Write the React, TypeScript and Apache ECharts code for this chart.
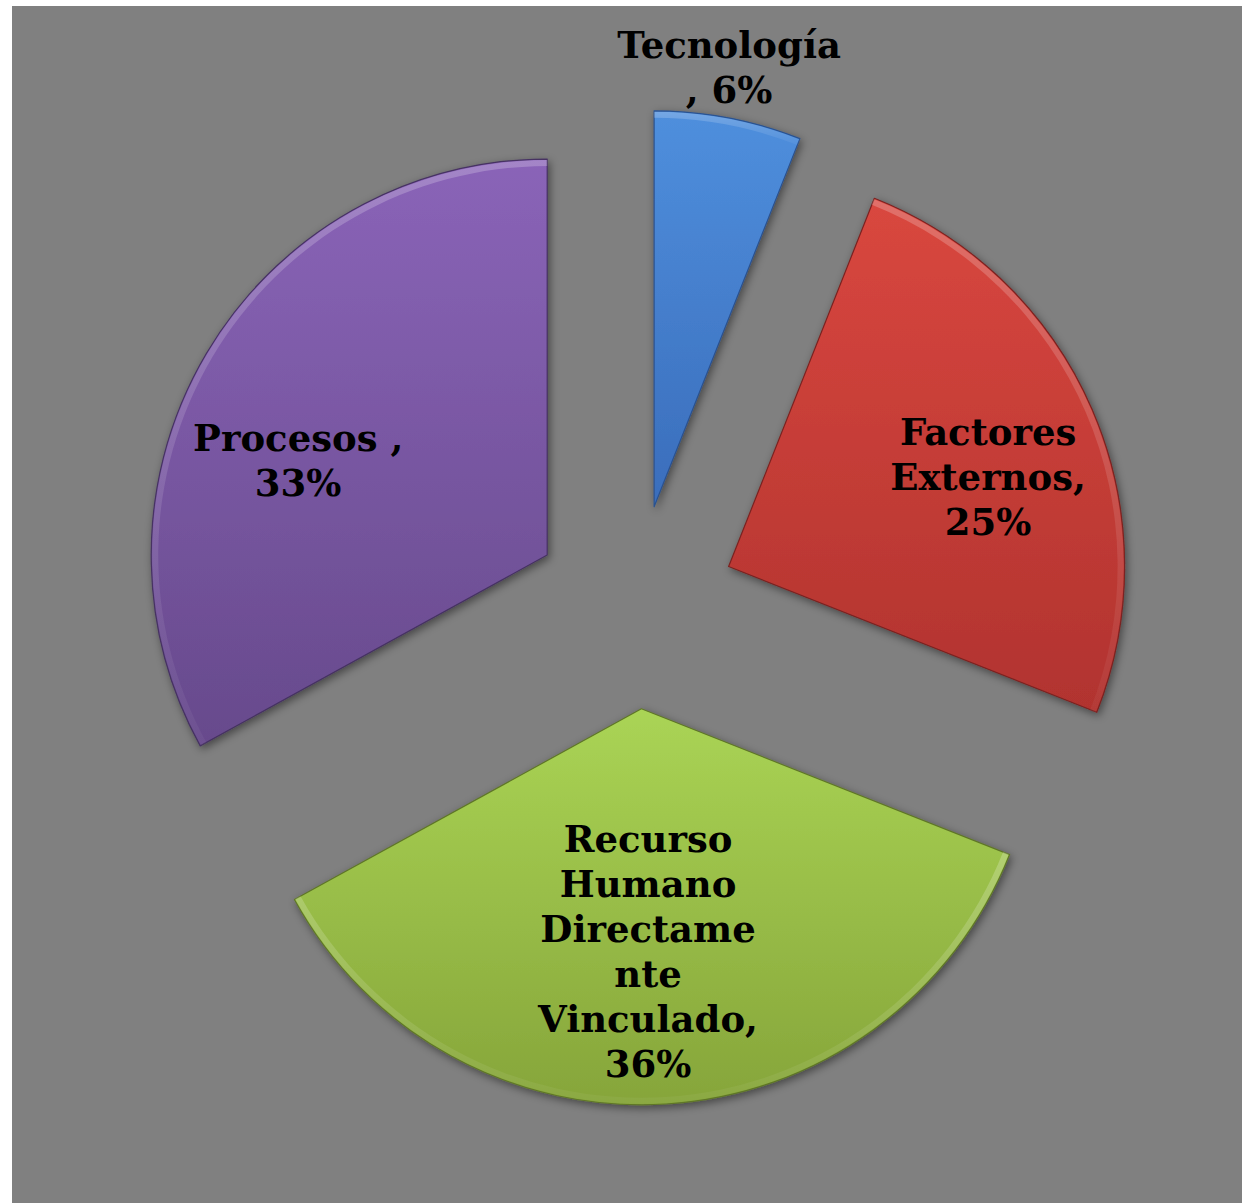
import React, { useEffect, useRef } from "react";
import * as echarts from "echarts";

// ---- data ----
const categories = [
  "Tecnología",
  "Factores Externos",
  "Recurso Humano Directamente Vinculado",
  "Procesos",
];
const values = [6, 25, 36, 33];
// how each label wraps (name part), and what precedes the percentage
const labelNameLines = [
  ["Tecnología"],
  ["Factores", "Externos,"],
  ["Recurso", "Humano", "Directame", "nte", "Vinculado,"],
  ["Procesos ,"],
];
const percentPrefix = [", ", "", "", ""];
// the thin slice carries its label just beyond the rim instead of inside
const labelOnRim = [true, false, false, false];

// ---- styles ----
const topColors = ["#4f8fdd", "#d9473f", "#aad455", "#8a64b8"];
const bottomColors = ["#3a6dbb", "#b1332f", "#86a53a", "#674a8c"];
const edgeColors = ["#2a5290", "#7a2220", "#5f7628", "#463262"];
// shift of each label from the library's default inside position
const labelShift = [
  [1, -51],
  [75, -10],
  [-6, 42],
  [-76, 8],
];

function hPadding(s: number[]) {
  return [0, Math.max(0, -2 * s[0]), 0, Math.max(0, 2 * s[0])];
}

export default function App() {
  const ref = useRef<HTMLDivElement>(null);
  useEffect(() => {
    if (!ref.current) return;
    const chart = echarts.init(ref.current, undefined, { renderer: "svg" });
    const center = [623, 601];
    const radius = 396;
    const offset = 102;
    const rich: Record<string, any> = {};
    labelShift.forEach((s, i) => {
      rich["t" + i] = { height: Math.max(1, 2 * s[1]), lineHeight: Math.max(1, 2 * s[1]), fontSize: 1 };
      rich["b" + i] = { height: Math.max(1, -2 * s[1]), lineHeight: Math.max(1, -2 * s[1]), fontSize: 1 };
    });
    const labelStyle = {
      position: "inside",
      color: "#000",
      fontFamily: "DejaVu Serif",
      fontWeight: "bold",
      fontSize: 37,
      lineHeight: 45,
      align: "center",
      rich,
      formatter: (p: any) => {
        const i = p.dataIndex;
        const s = labelShift[i];
        const body =
          labelNameLines[i].join("\n") +
          "\n" +
          percentPrefix[i] +
          Math.round(p.percent) +
          "%";
        const top = s[1] > 0 ? `{t${i}| }\n` : "";
        const bot = s[1] < 0 ? `\n{b${i}| }` : "";
        return top + body + bot;
      },
    };
    const mainData = categories.map((name, i) => {
      const item = {
        color: new echarts.graphic.LinearGradient(0, 0, 0, 1, [
          { offset: 0, color: topColors[i] },
          { offset: 1, color: bottomColors[i] },
        ]),
        borderColor: edgeColors[i],
        borderWidth: 1.2,
        shadowBlur: 8,
        shadowColor: "rgba(0,0,0,0.45)",
        shadowOffsetX: 2,
        shadowOffsetY: 3,
      };
      const lab = { show: !labelOnRim[i], padding: hPadding(labelShift[i]) };
      return {
        name,
        value: values[i],
        selected: true,
        itemStyle: item,
        label: lab,
        select: { itemStyle: item, label: lab },
      };
    });
    const rimData = categories.map((name, i) => {
      const item = {
        color: new echarts.graphic.LinearGradient(0, 0, 0, 1, [
          { offset: 0, color: "rgba(255,255,255,0.22)" },
          { offset: 1, color: "rgba(255,255,255,0.04)" },
        ]),
        borderWidth: 0,
      };
      const lab = { show: labelOnRim[i], padding: hPadding(labelShift[i]) };
      return {
        name,
        value: values[i],
        selected: true,
        itemStyle: item,
        label: lab,
        select: { itemStyle: item, label: lab },
      };
    });
    chart.setOption({
      animation: false,
      backgroundColor: "#808080",
      series: [
        {
          type: "pie",
          center,
          radius: [0, radius],
          startAngle: 90,
          clockwise: true,
          selectedMode: "multiple",
          selectedOffset: offset,
          avoidLabelOverlap: false,
          silent: true,
          emphasis: { disabled: true },
          label: labelStyle,
          labelLine: { show: false },
          data: mainData,
        },
        {
          type: "pie",
          center,
          radius: [radius - 7, radius - 1],
          startAngle: 90,
          clockwise: true,
          selectedMode: "multiple",
          selectedOffset: offset,
          avoidLabelOverlap: false,
          silent: true,
          emphasis: { disabled: true },
          label: labelStyle,
          labelLine: { show: false },
          data: rimData,
        },
      ],
    });
    return () => chart.dispose();
  }, []);
  return (
    <div
      style={{
        position: "absolute",
        left: 0,
        top: 0,
        width: 1242,
        height: 1203,
        background: "#ffffff",
      }}
    >
      <div
        ref={ref}
        style={{ position: "absolute", left: 12, top: 6, width: 1230, height: 1197 }}
      />
    </div>
  );
}
